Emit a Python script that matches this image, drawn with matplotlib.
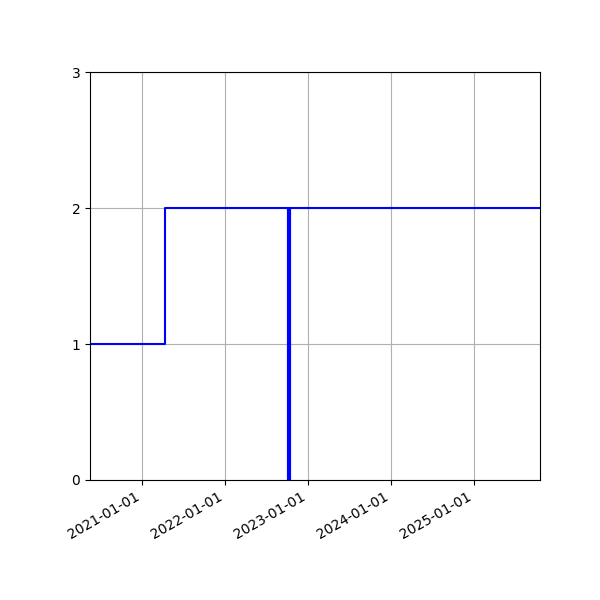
import matplotlib
matplotlib.use("Agg")
import matplotlib.pyplot as plt
import matplotlib.dates as mdates
import numpy as np

step_dates = np.array(["2020-05-15", "2021-04-12", "2025-10-21"], dtype="datetime64[D]")
step_values = [1, 2, 2]
event_date = np.datetime64("2022-10-12")
event_range = (0, 2)
y_ticks = [0, 1, 2, 3]

fig, ax = plt.subplots(figsize=(6, 6), dpi=100)
fig.subplots_adjust(left=0.15, right=0.9, top=0.88, bottom=0.2)
ax.step(step_dates, step_values, where="post", color="blue", linewidth=1.5)
ax.vlines(event_date, event_range[0], event_range[1], color="blue", linewidth=3)
ax.set_xlim(step_dates[0], step_dates[-1])
ax.set_ylim(0, 3)
ax.set_yticks(y_ticks)
ax.xaxis.set_major_locator(mdates.YearLocator())
ax.xaxis.set_major_formatter(mdates.DateFormatter("%Y-%m-%d"))
ax.grid(True)
for lbl in ax.get_xticklabels():
    lbl.set_rotation(30)
    lbl.set_ha("right")
fig.savefig("out.png")
